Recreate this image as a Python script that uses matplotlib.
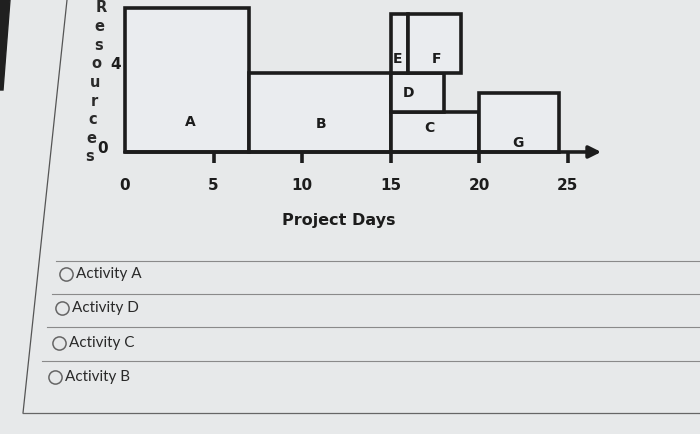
import matplotlib.pyplot as plt
from matplotlib.patches import Polygon
from matplotlib.transforms import ScaledTranslation

# Activities: name, start day, duration (days), resource floor, resources
activities = ['A', 'B', 'C', 'D', 'E', 'F', 'G']
starts = [0, 7, 15, 15, 15, 16, 20]
durations = [7, 8, 5, 3, 1, 3, 4.5]
bottoms = [0, 0, 0, 2, 4, 4, 0]
resources = [7.3, 4, 2, 2, 3, 3, 3]

day_ticks = [0, 5, 10, 15, 20, 25]
res_ticks = [0, 4]
options = ['Activity A', 'Activity D', 'Activity C', 'Activity B']

bg = '#e7e9ea'
ink = '#1c1c1c'

fig = plt.figure(figsize=(7, 4.34), dpi=100, facecolor=bg)

# page decorations (question frame, separators)
deco = fig.add_axes([0, 0, 1, 1])
deco.set_xlim(0, 700)
deco.set_ylim(434, 0)
deco.axis('off')
deco.plot([67, 23], [0, 413], color='#555555', lw=0.9)
deco.plot([23, 700], [413, 413], color='#666666', lw=0.9)
for y, x0 in zip([261, 294, 327, 361], [56, 52, 47, 42]):
    deco.plot([x0, 700], [y, y], color='#8a8a8a', lw=0.8)
deco.add_patch(Polygon([[0, 0], [10, 0], [3, 90], [0, 90]], color='#202020'))
for i, label in enumerate(options):
    y = 274 + i * 34.3
    x = 66 - i * 3.7
    deco.plot(x, y, 'o', ms=9.5, mfc='none', mec='#666666', mew=1.1)
    deco.text(x + 10, y, label, fontsize=11, family='Lato', color='#2a2a2a',
              va='center', ha='left')

# stacked y label, slightly slanted like the photo
for i, ch in enumerate('Resources'):
    deco.text(101 - i * 1.4, 8 + i * 18.6, ch, fontsize=10.5, fontweight='bold',
              color='#2a2a2a', ha='center', va='center')

# chart
ax = fig.add_axes([0.1533, 0.6043, 0.708, 0.3959])
ax.set_facecolor('none')
ax.set_xlim(-1, 27)
ax.set_ylim(-1, 7.7)

ax.bar(starts, resources, width=durations, bottom=bottoms, align='edge',
       color='#eaecef', edgecolor=ink, linewidth=2.6, zorder=2)

label_xy = [(3.7, 1.5), (11.1, 1.4), (17.2, 1.2), (16.0, 3.0),
            (15.4, 4.7), (17.6, 4.7), (22.2, 0.45)]
for name, (lx, ly) in zip(activities, label_xy):
    ax.text(lx, ly, name, fontsize=10, fontweight='bold', color=ink,
            ha='center', va='center', zorder=3)

ax.annotate('', xy=(26.9, 0), xytext=(0, 0),
            arrowprops=dict(arrowstyle='-|>', lw=2.6, color=ink,
                            mutation_scale=18, shrinkA=0, shrinkB=0),
            zorder=4)

for s in ax.spines.values():
    s.set_visible(False)
ax.spines['bottom'].set_position(('data', 0))
ax.spines['left'].set_position(('data', 0))

ax.set_xticks(day_ticks)
ax.set_xticklabels([str(d) for d in day_ticks], fontsize=11, fontweight='bold', color=ink)
ax.tick_params(axis='x', direction='out', length=8, width=2.6, color=ink, pad=11)
ax.xaxis.get_major_ticks()[0].tick1line.set_visible(False)

ax.set_yticks(res_ticks)
ax.set_yticklabels([str(r) for r in res_ticks], fontsize=11, fontweight='bold', color=ink)
ax.tick_params(axis='y', length=0)
yt = ax.yaxis.get_major_ticks()
yt[0].set_pad(12)
yt[1].set_pad(3)
# the photo is tilted a bit, so labels on the left sit higher
for t, dy in zip(ax.get_yticklabels(), [0.05, 0.1]):
    t.set_transform(t.get_transform() + ScaledTranslation(0, dy, fig.dpi_scale_trans))

ax.text(12.1, -3.45, 'Project Days', fontsize=11.5, fontweight='bold', color=ink,
        ha='center', va='center', clip_on=False)

fig.savefig('out.png', dpi=100, facecolor=bg)
